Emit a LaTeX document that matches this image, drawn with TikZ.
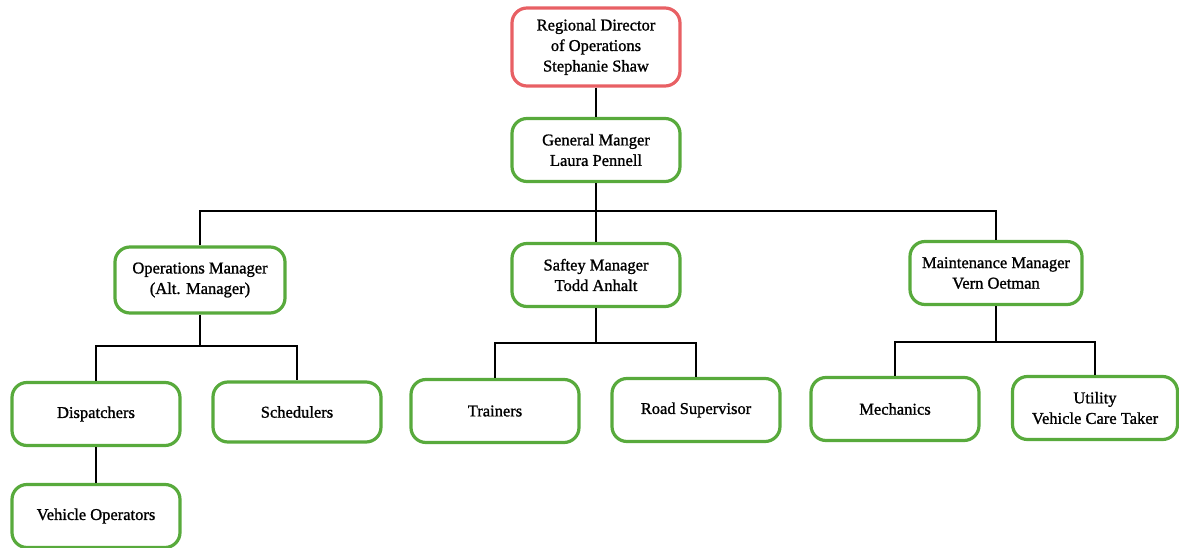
\documentclass[tikz,border=0pt]{standalone}
\usepackage{fontspec}
\setmainfont[FakeBold=1.2]{Liberation Serif}
\definecolor{boxgreen}{RGB}{88,170,60}
\definecolor{boxred}{RGB}{232,96,100}
\tikzset{
  orgbox/.style={draw=boxgreen, line width=3.2pt, rounded corners=15pt, fill=white,
    minimum width=168pt, minimum height=63pt, align=center, inner sep=2pt,
    font=\fontsize{16.5}{20.5}\selectfont},
  topbox/.style={orgbox, draw=boxred, minimum height=78pt},
  link/.style={draw=black, line width=2.4pt}
}
\begin{document}
\begin{tikzpicture}[x=1pt,y=-1pt]
\useasboundingbox (0,0) rectangle (1179,548);
\node[topbox] (rd) at (596,47) {Regional Director\\of Operations\\Stephanie Shaw};
\node[orgbox] (gm) at (596,150) {General Manger\\Laura Pennell};
\node[orgbox, minimum height=66pt, minimum width=170pt] (om) at (200,280) {Operations Manager\\(Alt. Manager)};
\node[orgbox] (sm) at (596,275) {Saftey Manager\\Todd Anhalt};
\node[orgbox, minimum width=172pt] (mm) at (996,273) {Maintenance Manager\\Vern Oetman};
\node[orgbox] (di) at (96,414) {Dispatchers};
\node[orgbox, minimum height=60pt] (sc) at (297,412) {Schedulers};
\node[orgbox] (vo) at (96,516) {Vehicle Operators};
\node[orgbox] (tr) at (495,411) {Trainers};
\node[orgbox] (rs) at (696,410) {Road Supervisor};
\node[orgbox] (me) at (895,409) {Mechanics};
\node[orgbox, minimum width=165pt] (ut) at (1095,408) {Utility\\Vehicle Care Taker};

\coordinate (b1) at (596,211);
\coordinate (b2) at (200,346);
\coordinate (b3) at (596,343);
\coordinate (b4) at (996,342);

\path[link] (rd.south) -- (gm.north);
\path[link] (gm.south) -- (b1);
\path[link] (om.north) |- (b1) -| (mm.north);
\path[link] (b1) -- (sm.north);

\path[link] (om.south) -- (b2);
\path[link] (di.north) |- (b2) -| (sc.north);
\path[link] (di.south) -- (vo.north);

\path[link] (sm.south) -- (b3);
\path[link] (tr.north) |- (b3) -| (rs.north);

\path[link] (mm.south) -- (b4);
\path[link] (me.north) |- (b4) -| (ut.north);
\end{tikzpicture}
\end{document}
